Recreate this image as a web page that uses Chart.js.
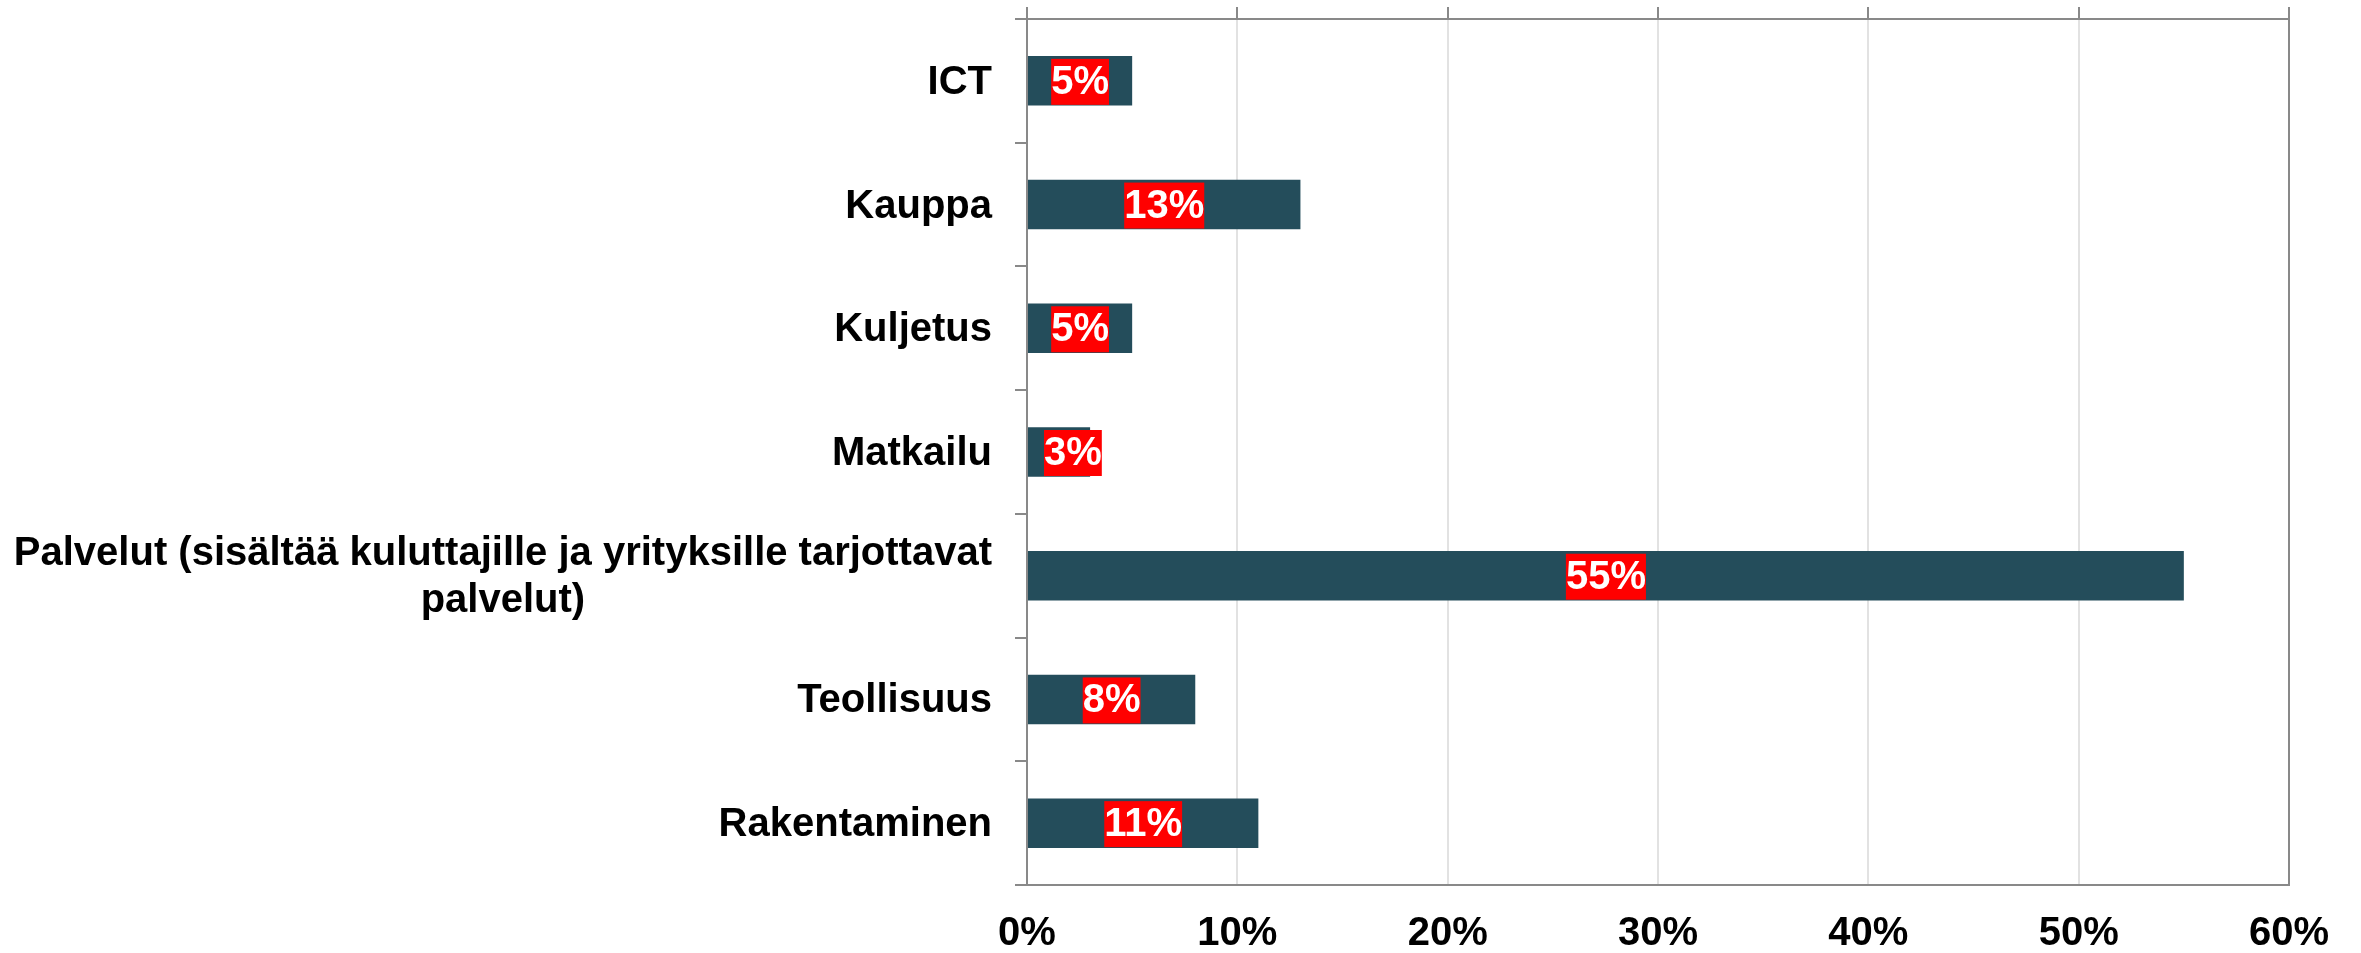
<!DOCTYPE html>
<html>
<head>
<meta charset="utf-8">
<script src="https://cdn.jsdelivr.net/npm/chart.js@4.4.1/dist/chart.umd.min.js"></script>
<style>
  html, body { margin: 0; padding: 0; background: #fff; }
  #wrap { width: 2361px; height: 953px; }
</style>
</head>
<body>
<div id="wrap"><canvas id="sector-chart"></canvas></div>
<script>
// data (percent)
var categories = [
  "ICT",
  "Kauppa",
  "Kuljetus",
  "Matkailu",
  ["Palvelut (sisältää kuluttajille ja yrityksille tarjottavat", "palvelut)"],
  "Teollisuus",
  "Rakentaminen"
];
var shares = [5, 13, 5, 3, 55, 8, 11];
var xTicks = [0, 10, 20, 30, 40, 50, 60];

var FONT = "'Liberation Sans', Arial, sans-serif";
var axisGrey = "#898989";

// category labels: right aligned block, lines centered inside the block
var yLabels = {
  id: "yLabels",
  afterDraw: function(chart) {
    var ctx = chart.ctx;
    var scale = chart.scales.y;
    var lineH = 47;
    ctx.save();
    ctx.font = "bold 40px " + FONT;
    ctx.fillStyle = "#000";
    ctx.textBaseline = "middle";
    ctx.textAlign = "center";
    categories.forEach(function(label, i) {
      var lines = [].concat(label);
      var w = 0;
      lines.forEach(function(l) { w = Math.max(w, ctx.measureText(l).width); });
      var right = chart.chartArea.left - 35;
      var cy = scale.getPixelForValue(i) + 2;
      lines.forEach(function(l, j) {
        ctx.fillText(l, right - w / 2, cy + (j - (lines.length - 1) / 2) * lineH);
      });
    });
    ctx.restore();
  }
};

// red value boxes in the bars
var valueBoxes = {
  id: "valueBoxes",
  afterDatasetsDraw: function(chart) {
    var ctx = chart.ctx;
    var meta = chart.getDatasetMeta(0);
    ctx.save();
    ctx.font = "bold 40px " + FONT;
    ctx.textBaseline = "middle";
    ctx.textAlign = "center";
    meta.data.forEach(function(bar, i) {
      var txt = shares[i] + "%";
      var w = ctx.measureText(txt).width;
      var h = 46;
      var cx = (bar.x + bar.base) / 2;
      var left = Math.max(cx - w / 2, bar.base + 16);
      ctx.fillStyle = "#ff0000";
      ctx.fillRect(left, bar.y - h / 2 + 1, w, h);
      ctx.fillStyle = "#fff";
      ctx.fillText(txt, left + w / 2, bar.y + 2);
    });
    ctx.restore();
  }
};

var ctx = document.getElementById("sector-chart").getContext("2d");
new Chart(ctx, {
  type: "bar",
  data: {
    labels: categories,
    datasets: [{
      data: shares,
      backgroundColor: "#244d5b",
      borderWidth: 0,
      categoryPercentage: 1,
      barPercentage: 0.4
    }]
  },
  options: {
    indexAxis: "y",
    responsive: true,
    maintainAspectRatio: false,
    animation: false,
    layout: { padding: { top: 7, right: 72, left: 0, bottom: 0 } },
    plugins: {
      legend: { display: false },
      tooltip: { enabled: false }
    },
    scales: {
      x: {
        position: "bottom",
        min: xTicks[0],
        max: xTicks[xTicks.length - 1],
        afterBuildTicks: function(s) { s.ticks = xTicks.map(function(v) { return { value: v }; }); },
        afterFit: function(s) { s.height = 68; },
        ticks: {
          padding: 29,
          color: "#000",
          font: { family: FONT, size: 40, weight: "bold", lineHeight: 1 },
          callback: function(v) { return v + "%"; }
        },
        grid: { color: "#e2e2e2", lineWidth: 2, drawTicks: false },
        border: { color: axisGrey, width: 2 }
      },
      x2: {
        type: "linear",
        position: "top",
        min: xTicks[0],
        max: xTicks[xTicks.length - 1],
        afterBuildTicks: function(s) { s.ticks = xTicks.map(function(v) { return { value: v }; }); },
        ticks: { display: false },
        grid: { drawOnChartArea: false, color: axisGrey, lineWidth: 2, tickLength: 12 },
        border: { color: axisGrey, width: 2 }
      },
      y: {
        position: "left",
        ticks: { display: false },
        grid: { drawOnChartArea: false, offset: true, color: axisGrey, lineWidth: 2, tickLength: 12 },
        border: { color: axisGrey, width: 2 },
        afterFit: function(s) { s.width = 1027; }
      },
      y2: {
        type: "linear",
        position: "right",
        ticks: { display: false },
        grid: { display: false, drawTicks: false },
        border: { color: axisGrey, width: 2 }
      }
    }
  },
  plugins: [yLabels, valueBoxes]
});
</script>
</body>
</html>
